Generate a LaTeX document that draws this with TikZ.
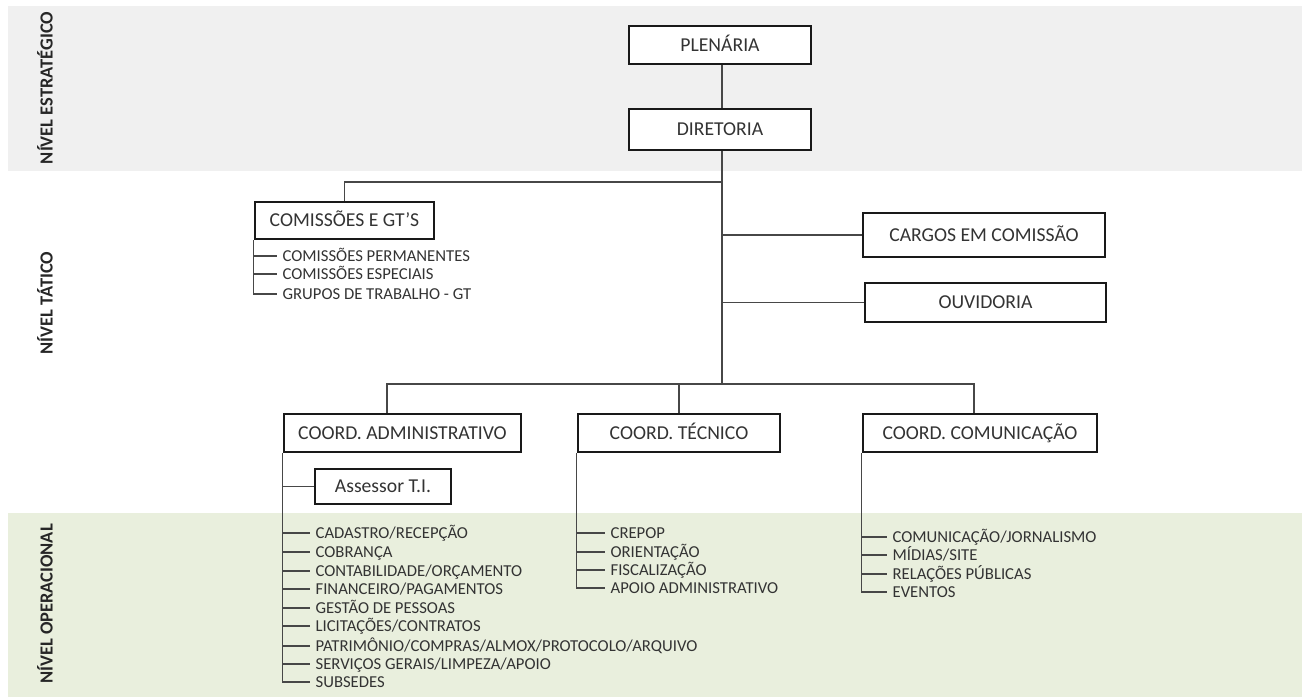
\documentclass[tikz,border=0pt]{standalone}
\usepackage{fontspec}
\setmainfont{Carlito}
\definecolor{cinzafundo}{HTML}{F0F0F0}
\definecolor{verdefundo}{HTML}{E9EFDD}
\definecolor{texto}{HTML}{333333}
\definecolor{linha}{HTML}{474747}
\tikzset{
  caixa/.style={draw=black!90, line width=1.5pt, fill=white, text=texto, inner sep=0pt,
    font=\fontsize{11.2}{13}\selectfont, text height=7.2pt, text depth=0pt},
  item/.style={anchor=west, text=texto, inner xsep=3pt, inner ysep=0pt,
    font=\fontsize{9.5}{11}\selectfont, text height=6pt, text depth=0pt},
  nivel/.style={rotate=90, text=black!85, font=\fontsize{10.5}{12}\selectfont\bfseries},
  lig/.style={draw=linha, line width=0.8pt}
}
\begin{document}
\begin{tikzpicture}[x=0.02cm,y=-0.02cm]
\useasboundingbox (0,0) rectangle (1302,699);
% faixas dos niveis
\fill[cinzafundo] (8,6) rectangle (1302,171);
\fill[verdefundo] (8,513) rectangle (1302,697);
\node[nivel] (estrat) at (45,88) {NÍVEL ESTRATÉGICO};
\node[nivel] (tatico) at (45,303) {NÍVEL TÁTICO};
\node[nivel] (operac) at (45,604) {NÍVEL OPERACIONAL};
% caixas
\node[caixa, minimum width=3.64cm, minimum height=0.76cm] (plen) at (720,45) {PLENÁRIA};
\node[caixa, minimum width=3.64cm, minimum height=0.82cm] (dir) at (720,129.5) {DIRETORIA};
\node[caixa, minimum width=3.58cm, minimum height=0.74cm] (comis) at (344.5,220.5) {COMISSÕES E GT'S};
\node[caixa, minimum width=4.84cm, minimum height=0.88cm] (cargos) at (984,235) {CARGOS EM COMISSÃO};
\node[caixa, minimum width=4.82cm, minimum height=0.78cm] (ouvid) at (985.5,302.5) {OUVIDORIA};
\node[caixa, minimum width=4.74cm, minimum height=0.76cm] (adm) at (402.5,433) {COORD. ADMINISTRATIVO};
\node[caixa, minimum width=4.04cm, minimum height=0.76cm] (tec) at (679,433) {COORD. TÉCNICO};
\node[caixa, minimum width=4.68cm, minimum height=0.76cm] (com) at (980,433) {COORD. COMUNICAÇÃO};
\node[caixa, minimum width=2.72cm, minimum height=0.70cm] (ti) at (383,486.5) {Assessor T.I.};
% ligacoes
\coordinate (nc) at (722,182);
\coordinate (nb) at (722,384);
\coordinate (na) at (387,384);
\coordinate (nm) at (974,384);
\draw[lig] (plen.south -| nc) -- (dir.north -| nc);
\draw[lig] (dir.south -| nc) -- (nb);
\draw[lig] (nc) -| (comis.north);
\draw[lig] (cargos.west) -- (cargos.west -| nc);
\draw[lig] (ouvid.west) -- (ouvid.west -| nc);
\draw[lig] (na |- adm.north) -- (na) -- (nm) -- (nm |- com.north);
\draw[lig] (tec.north) -- (tec.north |- nb);
% comissoes
\node[item] (c1) at (277,256) {COMISSÕES PERMANENTES};
\node[item] (c2) at (277,274) {COMISSÕES ESPECIAIS};
\node[item] (c3) at (277,294) {GRUPOS DE TRABALHO - GT};
\draw[lig] (comis.south west) |- (c1.west) (comis.south west) |- (c2.west)
  (comis.south west) |- (c3.west);
% administrativo
\node[item] (a1) at (310,533) {CADASTRO/RECEPÇÃO};
\node[item] (a2) at (310,552) {COBRANÇA};
\node[item] (a3) at (310,571) {CONTABILIDADE/ORÇAMENTO};
\node[item] (a4) at (310,589) {FINANCEIRO/PAGAMENTOS};
\node[item] (a5) at (310,608) {GESTÃO DE PESSOAS};
\node[item] (a6) at (310,626) {LICITAÇÕES/CONTRATOS};
\node[item] (a7) at (310,646) {PATRIMÔNIO/COMPRAS/ALMOX/PROTOCOLO/ARQUIVO};
\node[item] (a8) at (310,664) {SERVIÇOS GERAIS/LIMPEZA/APOIO};
\node[item] (a9) at (310,682) {SUBSEDES};
\draw[lig] (adm.south west) |- (ti.west)
  (adm.south west) |- (a1.west) (adm.south west) |- (a2.west)
  (adm.south west) |- (a3.west) (adm.south west) |- (a4.west)
  (adm.south west) |- (a5.west) (adm.south west) |- (a6.west)
  (adm.south west) |- (a7.west) (adm.south west) |- (a8.west)
  (adm.south west) |- (a9.west);
% tecnico
\node[item] (t1) at (605,533) {CREPOP};
\node[item] (t2) at (605,552) {ORIENTAÇÃO};
\node[item] (t3) at (605,570) {FISCALIZAÇÃO};
\node[item] (t4) at (605,588) {APOIO ADMINISTRATIVO};
\draw[lig] (tec.south west) |- (t1.west) (tec.south west) |- (t2.west)
  (tec.south west) |- (t3.west) (tec.south west) |- (t4.west);
% comunicacao
\node[item] (m1) at (887,537) {COMUNICAÇÃO/JORNALISMO};
\node[item] (m2) at (887,555) {MÍDIAS/SITE};
\node[item] (m3) at (887,574) {RELAÇÕES PÚBLICAS};
\node[item] (m4) at (887,592) {EVENTOS};
\draw[lig] (com.south west) |- (m1.west) (com.south west) |- (m2.west)
  (com.south west) |- (m3.west) (com.south west) |- (m4.west);
\end{tikzpicture}
\end{document}
